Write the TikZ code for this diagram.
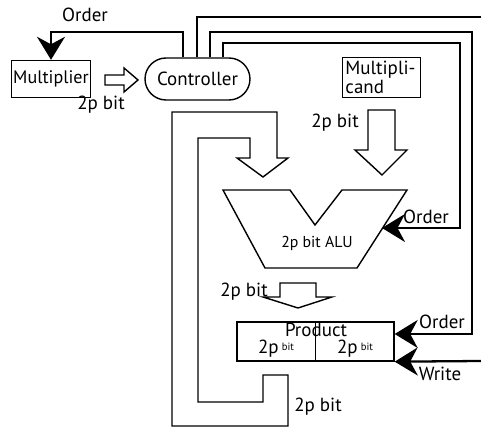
\documentclass[tikz,border=0pt]{standalone}
\usepackage{fontspec}
\setmainfont{PT Sans}
\usetikzlibrary{arrows.meta, positioning}

\begin{document}
\begin{tikzpicture}[
    x=0.02cm, y=-0.02cm,
    every node/.style={font=\fontsize{10.8}{11}\selectfont},
    unit/.style={draw, line width=0.8pt, inner sep=1pt},
    ctrl/.style={draw, line width=0.8pt, rounded corners=0.42cm, minimum width=2.1cm, minimum height=0.84cm},
    wire/.style={line width=1.3pt},
    order/.style={wire, -{Stealth[length=0.46cm, width=0.56cm]}},
    bus/.style={draw, line width=0.8pt, line join=miter}
]
    \useasboundingbox (0,0) rectangle (481,428);

    % Units
    \node[unit, minimum width=1.58cm, minimum height=0.74cm, font=\fontsize{10.3}{11}\selectfont] (mult) at (51,79) {Multiplier};
    \node[ctrl] (ctrl) at (197.5,79) {Controller};
    \node[unit, anchor=north west, minimum width=1.56cm, minimum height=0.8cm, text width=1.45cm, align=left] (mcand) at (342,57) {Multipli-\\cand};
    \node[unit, minimum width=3.14cm, minimum height=0.78cm] (prod) at (315.5,341.5) {};
    \draw[line width=0.8pt] (prod.north) -- (prod.south);
    \node (prodlbl) at (316,330) {Product};
    \node (lowbits) at (276,349) {2p\,\raisebox{2pt}{\fontsize{6}{6}\selectfont bit}};
    \node (highbits) at (355,349) {2p\,\raisebox{2pt}{\fontsize{6}{6}\selectfont bit}};

    % ALU
    \draw[bus] (223,190) -- (290,190) -- (315,225) -- (342,190) -- (407,190) -- (357,268) -- (265,268) -- cycle;
    \node (alu) at (317,243) {\fontsize{9}{9}\selectfont 2p bit ALU};
    \coordinate (aluin) at (382,228);

    % Buses
    \draw[bus] (105,75) -- (124,75) -- (124,68) -- (138,80) -- (124,92) -- (124,85) -- (105,85) -- cycle;
    \draw[bus] (368,110) -- (395,110) -- (395,150) -- (407,150) -- (382,175) -- (355,150) -- (368,150) -- cycle;
    \draw[bus] (280,283) -- (316,283) -- (316,297) -- (332,297) -- (298,308) -- (263,297) -- (280,297) -- cycle;
    \draw[bus] (263,375) -- (263,402) -- (198,402) -- (198,138) -- (250,138) -- (250,158) -- (237,158)
        -- (263,177) -- (288,158) -- (277,158) -- (277,112) -- (172,112) -- (172,426) -- (288,426) -- (288,375) -- cycle;

    % Control lines
    \coordinate (wtop) at (481,17);
    \coordinate (wbot) at (481,361);
    \draw[order] (ctrl.north -| 183,0) |- (mult.north |- 0,32) -- (mult.north);
    \draw[wire] (ctrl.north -| 197,0) |- (wtop);
    \draw[order] (ctrl.north -| 210,0) |- (472,32) |- (prod.east |- 0,334);
    \draw[order] (ctrl.north -| 223,0) |- (460,43) |- (aluin);
    \draw[order] (wbot) -- (prod.south east);

    % Labels
    \node (ordtop) at (85,15) {Order};
    \node (bitmult) at (101,105) {2p bit};
    \node (bitmcand) at (335,123) {2p bit};
    \node (ordalu) at (426,217) {Order};
    \node (bitalu) at (244,292) {2p bit};
    \node (ordprod) at (442,322) {Order};
    \node (write) at (440,374) {Write};
    \node (bitback) at (318,407) {2p bit};
\end{tikzpicture}
\end{document}
